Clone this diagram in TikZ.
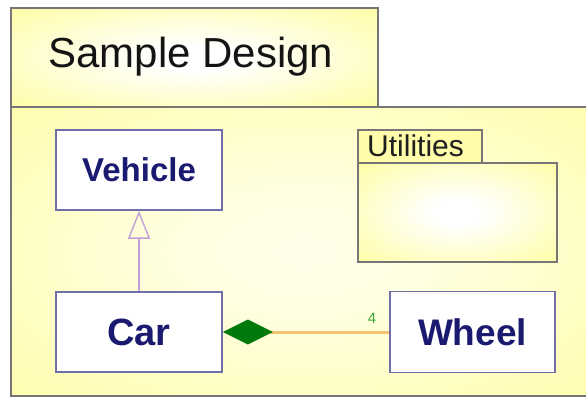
\documentclass[tikz,border=0pt]{standalone}
\usepackage{fontspec}
\setmainfont{Liberation Sans}
\usetikzlibrary{arrows.meta,shapes.geometric}

\definecolor{pkgyellow}{RGB}{255,253,170}
\definecolor{pkgborder}{RGB}{118,118,118}
\definecolor{classborder}{RGB}{112,112,168}
\definecolor{classtext}{RGB}{26,26,112}
\definecolor{genpurple}{RGB}{196,160,216}
\definecolor{assocorange}{RGB}{246,196,112}
\definecolor{compgreen}{RGB}{0,122,10}
\definecolor{multgreen}{RGB}{60,165,60}

% soft white glow fading into the package yellow
\pgfdeclareradialshading{softglow}{\pgfpoint{0bp}{0bp}}{%
  color(0bp)=(white); color(6bp)=(white); color(34bp)=(pkgyellow); color(50bp)=(pkgyellow)}
\pgfdeclareradialshading{faintglow}{\pgfpoint{0bp}{0bp}}{%
  color(0bp)=(white!75!pkgyellow); color(10bp)=(white!65!pkgyellow); color(38bp)=(pkgyellow); color(50bp)=(pkgyellow)}

\begin{document}
\begin{tikzpicture}[x=1pt,y=-1pt,
  pkgline/.style={draw=pkgborder, line width=1.4pt},
  classbox/.style={draw=classborder, line width=1.6pt, fill=white,
    minimum width=166pt, minimum height=80pt, inner sep=0pt,
    text=classtext, font=\bfseries\fontsize{#1}{#1}\selectfont},
  genline/.style={draw=genpurple, line width=1.4pt,
    -{Triangle[open, length=28pt 0 0, width=22pt 0 0, color=genpurple]}},
  compline/.style={draw=assocorange, line width=3pt,
    -{Diamond[length=50pt 0 0, width=25pt 0 0, color=compgreen, fill=compgreen]}}
]
\useasboundingbox (0,0) rectangle (586,398);
\fill[white] (0,0) rectangle (586,398);

% package "Sample Design": body and tab
\shade[shading=faintglow] (11,107) rectangle (600,396);
\shade[shading=softglow] (11,8) rectangle (378,107);
\draw[pkgline] (600,107) -- (11,107) -- (11,396) -- (600,396);
\draw[pkgline] (11,107) -- (11,8) -- (378,8) -- (378,107);
\node[font=\fontsize{42}{42}\selectfont, text=black!92] (pkgtitle) at (191,57) {Sample Design};

% package "Utilities"
\shade[shading=softglow] (358,163) rectangle (557,262);
\fill[pkgyellow] (358,130) rectangle (482,163);
\draw[pkgline, line width=1.2pt] (358,163) rectangle (557,262);
\draw[pkgline, line width=1.2pt] (358,163) -- (358,130) -- (482,130) -- (482,163);
\node[font=\fontsize{30}{30}\selectfont, text=black!88, anchor=west, inner sep=0pt] (utiltitle) at (367,146) {Utilities};

% classes
\node[classbox=33] (vehicle) at (139,170) {Vehicle};
\node[classbox=38] (car) at (139,332) {Car};
\node[classbox=37, minimum width=165pt, minimum height=81pt] (wheel) at (472.5,332) {Wheel};

% generalization Car -> Vehicle
\draw[genline] (car) -- (vehicle);

% composition Car <>-- Wheel with multiplicity
\draw[compline] (wheel) -- (car);
\node[font=\fontsize{15}{15}\selectfont, text=multgreen] (mult) at (372,318) {4};

\end{tikzpicture}
\end{document}
